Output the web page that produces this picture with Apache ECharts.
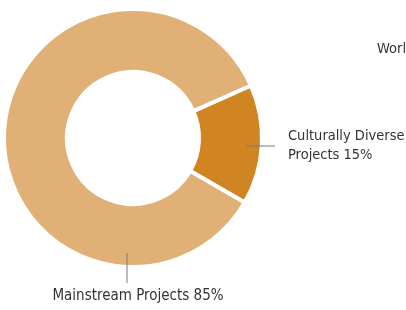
<!DOCTYPE html>
<html>
<head>
<meta charset="utf-8">
<script src="https://cdn.jsdelivr.net/npm/echarts@6/dist/echarts.min.js"></script>
<style>
  html, body { margin: 0; padding: 0; background: #fff; }
  #chart { width: 406px; height: 310px; }
</style>
</head>
<body>
<div id="chart"></div>
<script>
// data
var categories = ['Culturally Diverse Projects', 'Mainstream Projects'];
var labelNames = ['Culturally Diverse\nProjects', 'Mainstream Projects'];
var shares = [15, 85];
var colors = ['#d08422', '#e1b076'];

var FONT = "'DejaVu Sans Condensed', 'DejaVu Sans', sans-serif";
var cx = 133, cy = 138, rIn = 66, rOut = 129;

var chart = echarts.init(document.getElementById('chart'));

var textStyle = {
  fontFamily: FONT,
  fontStyle: 'condensed',
  fontSize: 15,
  lineHeight: 19,
  color: '#333'
};

chart.setOption({
  backgroundColor: '#fff',
  animation: false,
  title: {
    text: 'World',
    left: 377,
    top: 40,
    padding: 0,
    textStyle: Object.assign({}, textStyle, { fontSize: 14.5, fontWeight: 'normal' })
  },
  series: [{
    type: 'pie',
    center: [cx, cy],
    radius: [rIn, rOut],
    startAngle: 24,
    clockwise: true,
    itemStyle: { borderColor: '#fff', borderWidth: 4 },
    label: { show: false },
    labelLine: { show: false },
    data: categories.map(function (name, i) {
      return { name: name, value: shares[i], itemStyle: { color: colors[i] } };
    })
  }, {
    // same slices, invisible, carrying labels and leader lines above the ring
    type: 'pie',
    z: 5,
    silent: true,
    center: [cx, cy],
    radius: [rIn, rOut],
    startAngle: 24,
    clockwise: true,
    itemStyle: { color: 'rgba(0,0,0,0)', borderWidth: 0 },
    label: Object.assign({ show: true, overflow: 'none' }, textStyle),
    labelLine: {
      show: true,
      lineStyle: { color: '#7a7a7a', width: 1 }
    },
    labelLayout: function (p) {
      if (p.dataIndex === 0) {
        return {
          x: cx + 155, y: cy + 8, align: 'left', verticalAlign: 'middle',
          labelLinePoints: [[cx + 113, cy + 8], [cx + 128, cy + 8], [cx + 142, cy + 8]]
        };
      }
      return {
        x: cx + 5, y: cy + 149, align: 'center', verticalAlign: 'top',
        labelLinePoints: [[cx - 6, cy + 115], [cx - 6, cy + 130], [cx - 6, cy + 145]]
      };
    },
    data: categories.map(function (name, i) {
      return {
        name: name,
        value: shares[i],
        label: {
          formatter: labelNames[i] + ' {c}%',
          fontSize: i === 0 ? 14.5 : 15
        }
      };
    })
  }]
});
</script>
</body>
</html>
